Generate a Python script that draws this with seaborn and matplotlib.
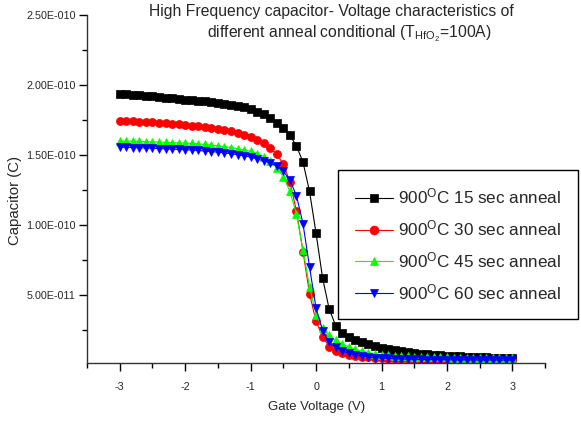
import numpy as np
import pandas as pd
import matplotlib
matplotlib.use("Agg")
import matplotlib.pyplot as plt
import seaborn as sns
from matplotlib import font_manager
from matplotlib.ticker import MultipleLocator, FuncFormatter

# gate voltage sweep (V)
volts = np.round(np.arange(-30, 31) / 10.0, 1)

# capacitance, units of 1e-11 F
cap_15s = [19.35, 19.33, 19.30, 19.26, 19.22, 19.18, 19.14, 19.10, 19.05, 19.00,
           18.95, 18.92, 18.88, 18.84, 18.79, 18.73, 18.67, 18.60, 18.52, 18.40,
           18.27, 18.10, 17.90, 17.62, 17.30, 16.95, 16.40, 15.65, 14.50, 12.40,
           9.40, 6.20, 4.00, 2.80, 2.30, 2.00, 1.80, 1.62, 1.47, 1.33,
           1.20, 1.11, 1.03, 0.96, 0.90, 0.85, 0.80, 0.76, 0.72, 0.69,
           0.66, 0.63, 0.61, 0.59, 0.57, 0.55, 0.53, 0.51, 0.50, 0.48, 0.47]
cap_30s = [17.45, 17.44, 17.42, 17.38, 17.35, 17.32, 17.29, 17.26, 17.22, 17.18,
           17.14, 17.10, 17.05, 16.99, 16.93, 16.86, 16.78, 16.69, 16.58, 16.45,
           16.30, 16.10, 15.85, 15.50, 15.05, 14.35, 13.10, 11.00, 8.10, 5.10,
           3.10, 2.00, 1.30, 1.00, 0.85, 0.74, 0.65, 0.58, 0.53, 0.49,
           0.46, 0.44, 0.42, 0.41, 0.40, 0.39, 0.38, 0.37, 0.37, 0.36,
           0.36, 0.35, 0.35, 0.34, 0.34, 0.34, 0.33, 0.33, 0.33, 0.32, 0.32]
cap_45s = [16.00, 15.99, 15.98, 15.97, 15.95, 15.93, 15.92, 15.90, 15.88, 15.86,
           15.84, 15.82, 15.79, 15.75, 15.71, 15.66, 15.60, 15.53, 15.45, 15.36,
           15.25, 15.10, 14.88, 14.55, 14.08, 13.45, 12.40, 10.80, 8.20, 5.60,
           3.60, 2.60, 2.10, 1.75, 1.50, 1.28, 1.12, 0.98, 0.88, 0.80,
           0.74, 0.70, 0.66, 0.63, 0.61, 0.59, 0.57, 0.56, 0.55, 0.54,
           0.53, 0.52, 0.52, 0.51, 0.51, 0.50, 0.50, 0.50, 0.49, 0.49, 0.49]
cap_60s = [15.55, 15.54, 15.53, 15.51, 15.50, 15.48, 15.46, 15.44, 15.42, 15.40,
           15.37, 15.35, 15.32, 15.28, 15.24, 15.20, 15.15, 15.09, 15.02, 14.94,
           14.85, 14.72, 14.58, 14.42, 14.22, 13.85, 13.20, 12.10, 10.10, 7.00,
           4.05, 2.45, 1.60, 1.25, 1.00, 0.84, 0.72, 0.63, 0.57, 0.52,
           0.48, 0.46, 0.44, 0.42, 0.41, 0.40, 0.39, 0.38, 0.38, 0.37,
           0.37, 0.36, 0.36, 0.36, 0.35, 0.35, 0.35, 0.35, 0.34, 0.34, 0.34]

labels = [r"900$^{\mathrm{O}}$C 15 sec anneal",
          r"900$^{\mathrm{O}}$C 30 sec anneal",
          r"900$^{\mathrm{O}}$C 45 sec anneal",
          r"900$^{\mathrm{O}}$C 60 sec anneal"]
colors = ["#000000", "#FF0000", "#00FF00", "#0000FF"]
markers = ["s", "o", "^", "v"]
UNIT = 1e-11

# font: narrow sans if we have it
names = {f.name for f in font_manager.fontManager.ttflist}
NARROW = "Liberation Sans Narrow" in names
FONT = "Liberation Sans Narrow" if NARROW else "Liberation Sans"
k = 1.0 if NARROW else 0.82

sns.set_style("ticks")
plt.rcParams["font.family"] = [FONT, "DejaVu Sans"]
plt.rcParams["mathtext.fontset"] = "custom"
plt.rcParams["mathtext.rm"] = FONT
plt.rcParams["mathtext.it"] = FONT
plt.rcParams["axes.linewidth"] = 1.0

fig = plt.figure(figsize=(5.81, 4.23), dpi=100)
ax = fig.add_axes([0.1497, 0.1407, 0.7886, 0.8238])

for vals, lab, c, m in zip([cap_15s, cap_30s, cap_45s, cap_60s], labels, colors, markers):
    df = pd.DataFrame({"V": volts, "C": np.array(vals) * UNIT})
    sns.lineplot(data=df, x="V", y="C", ax=ax, color=c, marker=m, markersize=5.8,
                 markeredgecolor=c, markeredgewidth=0.5, linewidth=0.8, label=lab)

ax.set_xlim(-3.5, 3.5)
ax.set_ylim(0.1e-11, 25e-11)
ax.xaxis.set_major_locator(MultipleLocator(1))
ax.xaxis.set_minor_locator(MultipleLocator(0.5))
ax.set_yticks([5e-11, 10e-11, 15e-11, 20e-11, 25e-11])
ax.yaxis.set_minor_locator(MultipleLocator(2.5e-11))


def sci_fmt(v, pos):
    e = int(np.floor(np.log10(abs(v))))
    m = v / 10 ** e
    return f"{m:.2f}E-{abs(e):03d}"


ax.yaxis.set_major_formatter(FuncFormatter(sci_fmt))
ax.xaxis.set_major_formatter(FuncFormatter(lambda v, p: f"{int(round(v))}"))
ax.tick_params(axis="both", which="major", direction="out", length=6, width=1,
               labelsize=9.4 * k, color="black")
ax.tick_params(axis="y", which="major", pad=2)
ax.tick_params(axis="x", which="major", pad=7)
ax.tick_params(axis="both", which="minor", direction="out", length=3.5, width=1, color="black")

for s in ["top", "right"]:
    ax.spines[s].set_visible(False)
for s in ["left", "bottom"]:
    ax.spines[s].set_color("#333333")

ax.set_xlabel("")
ax.set_ylabel("")
fig.text(316.5 / 581, 1 - 407 / 423, "Gate Voltage (V)", ha="center", va="center",
         fontsize=11.5 * k)
fig.text(15 / 581, 1 - 200 / 423, "Capacitor (C)", ha="center", va="center",
         rotation=90, fontsize=13.2 * k)

fig.text(0.570, 0.972, "High Frequency capacitor- Voltage characteristics of",
         ha="center", va="center", fontsize=13.8 * k)
fig.text(0.602, 0.920, r"different anneal conditional (T$_{\mathrm{HfO}_2}$=100A)",
         ha="center", va="center", fontsize=13.8 * k)

leg = ax.legend(loc="upper left", bbox_to_anchor=(0.548, 0.556), borderaxespad=0,
                frameon=True, fancybox=False, framealpha=1, edgecolor="black",
                fontsize=15 * k, handlelength=2.2, handletextpad=0.3,
                labelspacing=0.7, borderpad=1.0, markerscale=1.1)
leg.get_frame().set_linewidth(1.0)

fig.savefig("out.png", dpi=100)
